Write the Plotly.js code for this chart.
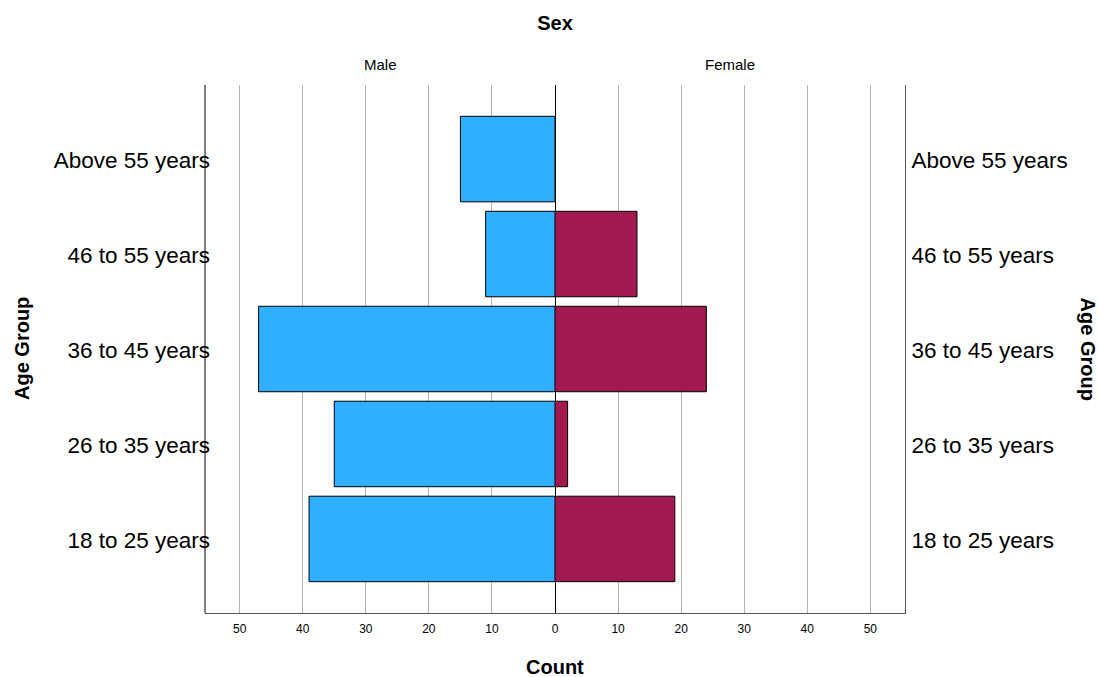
<!DOCTYPE html>
<html>
<head>
<meta charset="utf-8">
<script src="https://cdn.plot.ly/plotly-3.0.1.min.js"></script>
<style>html,body{margin:0;padding:0;background:#fff;}#chart{width:1099px;height:677px;}</style>
</head>
<body>
<div id="chart"></div>
<script>
// Data
var ageGroups = ["18 to 25 years", "26 to 35 years", "36 to 45 years", "46 to 55 years", "Above 55 years"];
var maleCounts = [39, 35, 47, 11, 15];
var femaleCounts = [19, 2, 24, 13, 0];
var xTicks = [0, 10, 20, 30, 40, 50];
var panelLabels = ["Male", "Female"];

var FONT = "Liberation Sans, Arial, sans-serif";

var traces = [
  {
    type: "bar", orientation: "h", name: panelLabels[0],
    x: maleCounts, y: ageGroups, xaxis: "x", yaxis: "y",
    marker: {color: "#31afff", line: {color: "#000000", width: 1}},
    hoverinfo: "x+y"
  },
  {
    type: "bar", orientation: "h", name: panelLabels[1],
    x: femaleCounts, y: ageGroups, xaxis: "x2", yaxis: "y2",
    marker: {color: "#a2194f", line: {color: "#000000", width: 1}},
    hoverinfo: "x+y"
  }
];

var xCommon = {
  tickmode: "array", tickvals: xTicks,
  showgrid: true, gridcolor: "#b4b4b4", gridwidth: 1,
  zeroline: true, zerolinecolor: "#000000", zerolinewidth: 1,
  showline: true, linecolor: "#555555", linewidth: 1,
  ticks: "", ticklabelstandoff: 5,
  tickfont: {family: FONT, size: 12, color: "#000"},
  fixedrange: true
};

var yCommon = {
  type: "category", categoryorder: "array", categoryarray: ageGroups,
  range: [-0.78, 4.78], showgrid: false, zeroline: false,
  ticks: "", tickfont: {family: FONT, size: 22.5, color: "#000"},
  ticklabelshift: 1,
  fixedrange: true
};

var layout = {
  width: 1099, height: 677,
  margin: {l: 205, r: 194, t: 85, b: 64, pad: 0},
  paper_bgcolor: "#ffffff", plot_bgcolor: "#ffffff",
  showlegend: false,
  bargap: 0.1,
  font: {family: FONT, color: "#000"},
  title: {text: "<b>Sex</b>", font: {family: FONT, size: 20, color: "#000"}, x: 0.505, xanchor: "center", y: 0.966, yanchor: "middle"},
  xaxis: Object.assign({}, xCommon, {domain: [0, 0.5], range: [55.5, 0], anchor: "y",
    ticktext: xTicks.map(String)}),
  xaxis2: Object.assign({}, xCommon, {domain: [0.5, 1], range: [0, 55.5], anchor: "y2",
    ticktext: xTicks.map(function (v) { return v === 0 ? "" : String(v); })}),
  yaxis: Object.assign({}, yCommon, {anchor: "free", position: 0.0072, side: "left", showline: false}),
  yaxis2: Object.assign({}, yCommon, {anchor: "x2", side: "right", overlaying: "y", showline: true, linecolor: "#555555", ticklabelstandoff: 1}),
  shapes: [
    {type: "line", xref: "paper", yref: "paper", x0: 0, x1: 0, y0: 0, y1: 1, line: {color: "#000000", width: 1}}
  ],
  annotations: [
    {text: panelLabels[0], xref: "paper", yref: "paper", x: 0.25, y: 1.038, showarrow: false, xanchor: "center", yanchor: "middle", font: {family: FONT, size: 15, color: "#000"}},
    {text: panelLabels[1], xref: "paper", yref: "paper", x: 0.75, y: 1.038, showarrow: false, xanchor: "center", yanchor: "middle", font: {family: FONT, size: 15, color: "#000"}},
    {text: "<b>Count</b>", xref: "paper", yref: "paper", x: 0.5, y: -0.102, showarrow: false, xanchor: "center", yanchor: "middle", font: {family: FONT, size: 20, color: "#000"}},
    {text: "<b>Age Group</b>", xref: "paper", yref: "paper", x: -0.2614, y: 0.5, showarrow: false, xanchor: "center", yanchor: "middle", textangle: -90, font: {family: FONT, size: 20, color: "#000"}},
    {text: "<b>Age Group</b>", xref: "paper", yref: "paper", x: 1.262, y: 0.5, showarrow: false, xanchor: "center", yanchor: "middle", textangle: 90, font: {family: FONT, size: 20, color: "#000"}}
  ]
};

Plotly.newPlot("chart", traces, layout, {displayModeBar: false, staticPlot: true});
</script>
</body>
</html>
